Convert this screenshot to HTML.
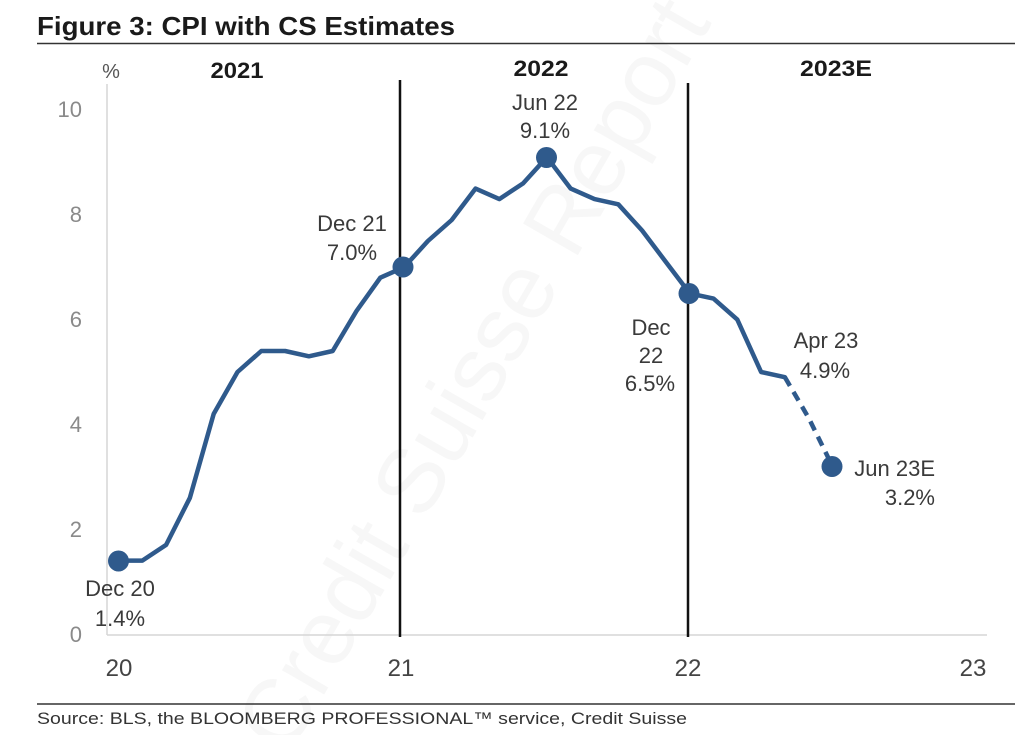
<!DOCTYPE html>
<html>
<head>
<meta charset="utf-8">
<style>
  html,body{margin:0;padding:0;background:#fff;}
  svg{display:block;}
</style>
</head>
<body>
<svg width="1024" height="735" viewBox="0 0 1024 735" xmlns="http://www.w3.org/2000/svg" font-family="Liberation Sans, Arial, sans-serif">
  <rect width="1024" height="735" fill="#ffffff"/>

  <!-- watermark -->
  <text x="0" y="0" transform="translate(500,390) rotate(-60)" text-anchor="middle" font-size="92" fill="#f7f7f7">Credit Suisse Report</text>

  <!-- title -->
  <text x="37" y="35" font-size="26" font-weight="bold" fill="#1a1a1a" textLength="418" lengthAdjust="spacingAndGlyphs">Figure 3: CPI with CS Estimates</text>
  <line x1="37" y1="43.5" x2="1015" y2="43.5" stroke="#333" stroke-width="1.6"/>

  <!-- axes -->
  <line x1="107" y1="84" x2="107" y2="635" stroke="#d6d6d6" stroke-width="1.5"/>
  <line x1="107" y1="635" x2="987" y2="635" stroke="#d6d6d6" stroke-width="1.5"/>

  <!-- y labels -->
  <g font-size="22" fill="#8a8a8a" text-anchor="end">
    <text x="82" y="117">10</text>
    <text x="82" y="222">8</text>
    <text x="82" y="327">6</text>
    <text x="82" y="432">4</text>
    <text x="82" y="537">2</text>
    <text x="82" y="642">0</text>
  </g>
  <text x="111" y="78" font-size="20" fill="#555" text-anchor="middle">%</text>

  <!-- x labels -->
  <g font-size="24" fill="#444" text-anchor="middle">
    <text x="119" y="676">20</text>
    <text x="401" y="676">21</text>
    <text x="688" y="676">22</text>
    <text x="973" y="676">23</text>
  </g>

  <!-- year headers -->
  <g font-size="22" font-weight="bold" fill="#1a1a1a" text-anchor="middle">
    <text x="237" y="78" textLength="53" lengthAdjust="spacingAndGlyphs">2021</text>
    <text x="541" y="76" textLength="55" lengthAdjust="spacingAndGlyphs">2022</text>
    <text x="836" y="76" textLength="72" lengthAdjust="spacingAndGlyphs">2023E</text>
  </g>

  <!-- vertical separators -->
  <line x1="400" y1="80" x2="400" y2="637" stroke="#111" stroke-width="2.5"/>
  <line x1="688" y1="83" x2="688" y2="637" stroke="#111" stroke-width="2.5"/>

  <!-- data line -->
  <polyline fill="none" stroke="#2f5a8c" stroke-width="4.5" stroke-linejoin="round" stroke-linecap="round"
    points="118.5,560.6 142.3,560.6 166.1,544.9 189.9,497.8 213.7,413.9 237.5,372 261.3,351 285.1,351 308.9,356.3 332.7,351 356.5,311 380.3,277.7 404.1,267.2 427.9,241 451.7,220 475.5,188.6 499.3,199.1 523.1,183.4 546.9,157.2 570.7,188.6 594.5,199.1 618.3,204.3 642.1,230.5 665.9,262 689.7,293.4 713.5,298.6 737.3,319.6 761.1,372 784.9,377.2"/>
  <polyline fill="none" stroke="#2f5a8c" stroke-width="4.5" stroke-dasharray="10,7" stroke-linecap="butt"
    points="784.9,377.2 808.7,418 832.5,466.3"/>

  <!-- markers -->
  <g fill="#2f5a8c">
    <circle cx="118.5" cy="561" r="10.5"/>
    <circle cx="403" cy="267" r="10.5"/>
    <circle cx="546.5" cy="157.5" r="10.5"/>
    <circle cx="689" cy="293.5" r="10.5"/>
    <circle cx="832" cy="466.5" r="10.5"/>
  </g>

  <!-- annotations -->
  <g font-size="22" fill="#3a3a3a" text-anchor="middle">
    <text x="120" y="596">Dec 20</text>
    <text x="120" y="626">1.4%</text>
    <text x="352" y="231">Dec 21</text>
    <text x="352" y="260">7.0%</text>
    <text x="545" y="110">Jun 22</text>
    <text x="545" y="138">9.1%</text>
    <text x="651" y="335">Dec</text>
    <text x="651" y="363">22</text>
    <text x="650" y="391">6.5%</text>
    <text x="826" y="348">Apr 23</text>
    <text x="825" y="378">4.9%</text>
    <text x="935" y="476" text-anchor="end">Jun 23E</text>
    <text x="935" y="505" text-anchor="end">3.2%</text>
  </g>

  <!-- source -->
  <line x1="37" y1="704" x2="1015" y2="704" stroke="#333" stroke-width="1.6"/>
  <text x="37" y="724" font-size="17" fill="#333" textLength="650" lengthAdjust="spacingAndGlyphs">Source: BLS, the BLOOMBERG PROFESSIONAL™ service, Credit Suisse</text>
</svg>
</body>
</html>
